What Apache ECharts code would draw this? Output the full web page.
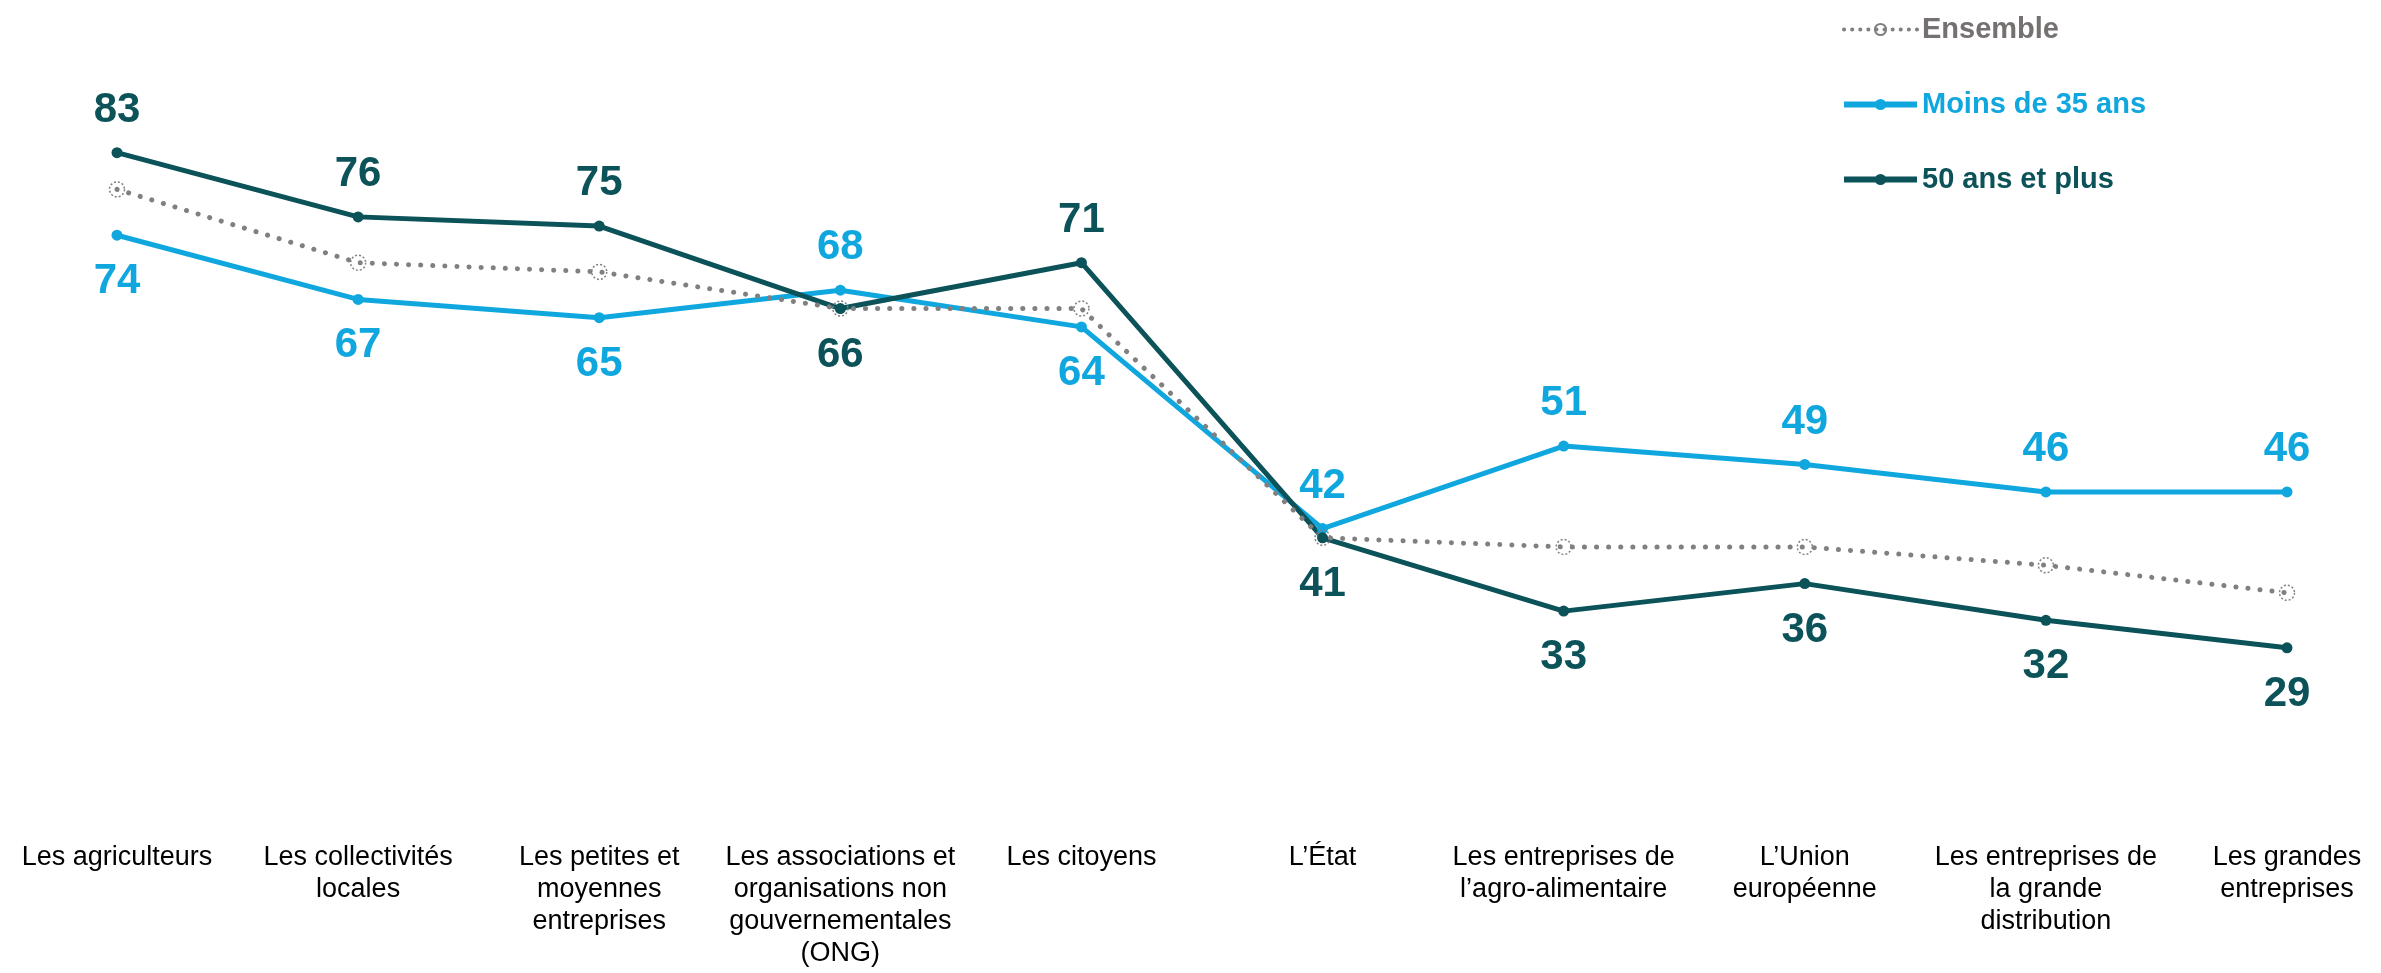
<!DOCTYPE html>
<html>
<head>
<meta charset="utf-8">
<script src="https://cdn.jsdelivr.net/npm/echarts@6/dist/echarts.min.js"></script>
<style>
  html, body { margin: 0; padding: 0; background: #fff; }
  #main { width: 2381px; height: 973px; }
</style>
</head>
<body>
<div id="main"></div>
<script>
// catégories (axe X)
var categories = [
  'Les agriculteurs',
  'Les collectivités\nlocales',
  'Les petites et\nmoyennes\nentreprises',
  'Les associations et\norganisations non\ngouvernementales\n(ONG)',
  'Les citoyens',
  'L’État',
  'Les entreprises de\nl’agro-alimentaire',
  'L’Union\neuropéenne',
  'Les entreprises de\nla grande\ndistribution',
  'Les grandes\nentreprises'
];
var ensemble = [79, 71, 70, 66, 66, 41, 40, 40, 38, 35];
var moins35 = [74, 67, 65, 68, 64, 42, 51, 49, 46, 46];
var plus50 = [83, 76, 75, 66, 71, 41, 33, 36, 32, 29];

var cBlue = '#10a7df';
var cDark = '#0b5259';
var cGrey = '#808080';
var font = '"Liberation Sans", Arial, sans-serif';

// étiquette au-dessus si la série est la plus haute des deux, sinon en dessous
function withLabels(values, other) {
  return values.map(function (v, i) {
    var up = v >= other[i];
    return {
      value: v,
      label: { position: up ? 'top' : 'bottom', distance: up ? 16 : 20 }
    };
  });
}

var myChart = echarts.init(document.getElementById('main'));
var option = {
  animation: false,
  grid: { left: 117, right: 94, top: 6, bottom: 151 },
  legend: {
    orient: 'vertical',
    left: 1836,
    top: 10,
    itemWidth: 73,
    itemHeight: 14,
    itemGap: 46,
    data: [
      {
        name: 'Ensemble',
        textStyle: { color: '#767171' },
        lineStyle: { width: 4, type: [0.1, 8], cap: 'round' }
      },
      { name: 'Moins de 35 ans', textStyle: { color: cBlue }, lineStyle: { width: 6 } },
      { name: '50 ans et plus', textStyle: { color: cDark }, lineStyle: { width: 6 } }
    ],
    textStyle: { fontFamily: font, fontSize: 29, fontWeight: 'bold' }
  },
  xAxis: {
    type: 'category',
    data: categories,
    boundaryGap: false,
    axisLine: { show: false },
    axisTick: { show: false },
    axisLabel: {
      interval: 0,
      margin: 20,
      color: '#000',
      fontFamily: font,
      fontSize: 27,
      lineHeight: 32,
      align: 'center'
    }
  },
  yAxis: {
    type: 'value',
    min: 10,
    max: 99,
    show: false,
    splitLine: { show: false }
  },
  series: [
    {
      name: 'Moins de 35 ans',
      type: 'line',
      data: withLabels(moins35, plus50),
      symbol: 'circle',
      symbolSize: 11,
      itemStyle: { color: cBlue },
      lineStyle: { color: cBlue, width: 5 },
      label: {
        show: true,
        color: cBlue,
        fontFamily: font,
        fontSize: 42,
        fontWeight: 'bold'
      }
    },
    {
      name: '50 ans et plus',
      type: 'line',
      data: withLabels(plus50, moins35),
      symbol: 'circle',
      symbolSize: 11,
      itemStyle: { color: cDark },
      lineStyle: { color: cDark, width: 5 },
      label: {
        show: true,
        color: cDark,
        fontFamily: font,
        fontSize: 42,
        fontWeight: 'bold'
      }
    },
    {
      name: 'Ensemble',
      type: 'line',
      data: ensemble,
      symbol: 'circle',
      symbolSize: 15,
      itemStyle: {
        color: 'rgba(255,255,255,0)',
        borderColor: cGrey,
        borderWidth: 1.5,
        borderType: [2, 2]
      },
      lineStyle: { color: cGrey, width: 5, type: [0.1, 12], cap: 'round' }
    }
  ]
};
myChart.setOption(option);
</script>
</body>
</html>
